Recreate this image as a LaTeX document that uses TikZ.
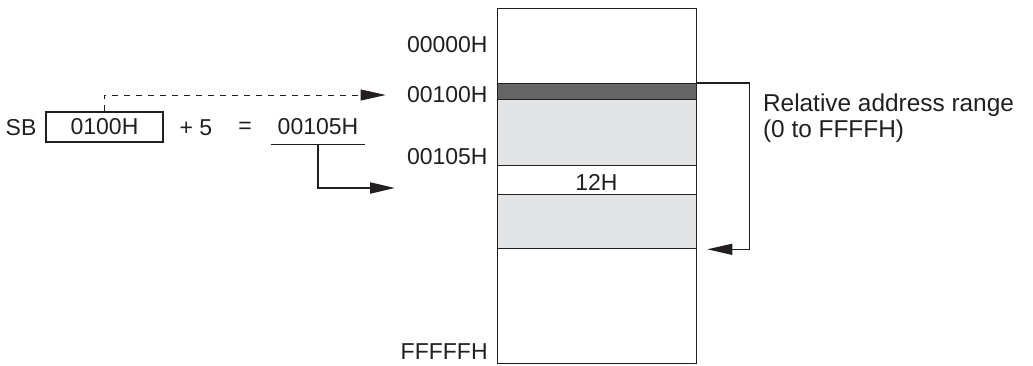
\documentclass[tikz,border=0pt]{standalone}
\usepackage{fontspec}
\setmainfont{Liberation Sans}
\usepackage{tikz}
\usetikzlibrary{arrows.meta}
\definecolor{bandgray}{HTML}{666666}
\definecolor{areagray}{HTML}{E3E4E6}
\definecolor{ink}{HTML}{231F20}
\tikzset{
	cell/.style={draw=ink, line width=0.65pt, minimum width=99.5pt, inner sep=0pt, anchor=north west},
	addr/.style={anchor=east, inner sep=0pt},
	bigtip/.style={-{Triangle[length=12.5pt,width=5.5pt]}}
}

\begin{document}
\begin{tikzpicture}[x=0.5pt,y=-0.5pt,font=\fontsize{11.5}{13}\selectfont,color=ink]
						\useasboundingbox (0,0) rectangle (1033,365);
						% memory map
						\node[cell, minimum height=37.5pt] (top) at (497,8) {};
						\node[cell, fill=bandgray, minimum height=8pt] (base) at (497,83) {};
						\node[cell, fill=areagray, minimum height=33pt] (low) at (497,99) {};
						\node[cell, minimum height=14.5pt] (data) at (497,165) {};
						\node[cell, fill=areagray, minimum height=27pt] (high) at (497,194) {};
						\node[cell, minimum height=57.5pt] (rest) at (497,248) {};
						\node (val) at (596.5,182) {12H};
						\node[addr] (a0) at (488,45) {00000H};
						\node[addr] (a100) at (488,95) {00100H};
						\node[addr] (a105) at (488,157) {00105H};
						\node[addr] (aend) at (488,352) {FFFFFH};
						% address calculation
						\node (sb) at (21,128) {SB};
						\node[draw, line width=0.65pt, minimum width=58.5pt, minimum height=15pt] (sbval) at (104.5,127) {0100H};
						\node (plus) at (196,128) {+ 5};
						\node (eq) at (245,128) {=};
						\node[minimum width=45pt, minimum height=17pt] (res) at (318,127) {00105H};
						\coordinate (hit) at (395,188);
						\draw[line width=0.65pt] (res.south west) -- (res.south east);
						\path[bigtip]
						(sbval.north) edge [dashed, line width=0.4pt, to path={|- (\tikztotarget)}] ([xshift=-10.5pt]a100.west)
						(res.south) edge [line width=1pt, to path={|- (\tikztotarget)}] (hit);
						% relative range
						\draw[bigtip, line width=0.6pt] (base.north east) -- ++(52,0) |- ([xshift=5pt]high.south east);
						\node[anchor=west, align=left, font=\fontsize{12.2}{13}\selectfont] (range) at (756,118) {Relative address range\\(0 to FFFFH)};
					\end{tikzpicture}
\end{document}
